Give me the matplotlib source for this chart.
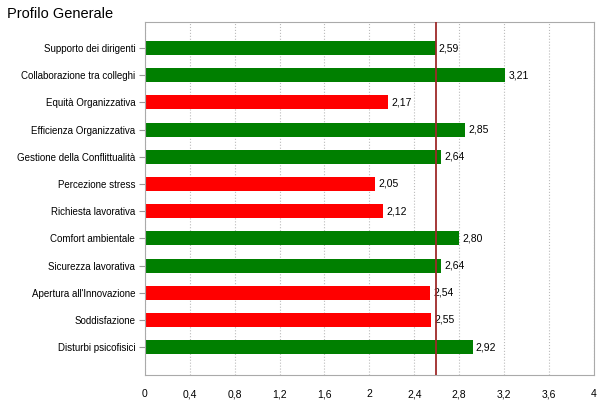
import numpy as np
import matplotlib
matplotlib.use("Agg")
import matplotlib.pyplot as plt

plt.rcParams['font.family'] = ['Liberation Sans', 'DejaVu Sans']

categorie = ["Supporto dei dirigenti", "Collaborazione tra colleghi", "Equità Organizzativa",
             "Efficienza Organizzativa", "Gestione della Conflittualità", "Percezione stress",
             "Richiesta lavorativa", "Comfort ambientale", "Sicurezza lavorativa",
             "Apertura all'Innovazione", "Soddisfazione", "Disturbi psicofisici"]
valori = [2.59, 3.21, 2.17, 2.85, 2.64, 2.05, 2.12, 2.80, 2.64, 2.54, 2.55, 2.92]
colori = ["g", "g", "r", "g", "g", "r", "r", "g", "g", "r", "r", "g"]
media = 2.59
xticks = [0, 0.4, 0.8, 1.2, 1.6, 2, 2.4, 2.8, 3.2, 3.6, 4]

cmap = {"g": "#007f00", "r": "#ff0000"}

fig = plt.figure(figsize=(6.04, 4.03), dpi=100)
ax = fig.add_axes([0.240, 0.069, 0.743, 0.876])

y = np.arange(len(categorie))
ax.barh(y, valori, height=0.52, color=[cmap[c] for c in colori], zorder=2)
for yi, v in zip(y, valori):
    ax.text(v + 0.03, yi, f"{v:.2f}".replace(".", ","), va="center", ha="left", fontsize=7.5)

ax.axvline(media, color="#9e2a2a", lw=1.3, zorder=3)

ax.set_xlim(0, 4)
ax.set_ylim(len(categorie) + 0.03, -0.95)
ax.set_yticks(y)
ax.set_yticklabels(categorie, fontsize=7)
ax.tick_params(axis="y", length=4, color="#999999", pad=3)
ax.set_xticks(xticks)
ax.set_xticklabels([])
ax.tick_params(axis="x", length=0)
# etichette asse x con baseline comune
for t in xticks:
    ax.annotate(str(t).replace(".", ","), (t, 0), xycoords=("data", "axes fraction"),
                xytext=(0, -16), textcoords="offset points",
                ha="center", va="baseline", fontsize=7.5)
ax.grid(axis="x", color="#bbbbbb", ls=":", lw=0.8, zorder=0)
for s in ax.spines.values():
    s.set_color("#aaaaaa")
    s.set_linewidth(0.8)

fig.text(0.012, 0.965, "Profilo Generale", fontsize=10.5, ha="left", va="center")

fig.savefig("out.png", dpi=100)
